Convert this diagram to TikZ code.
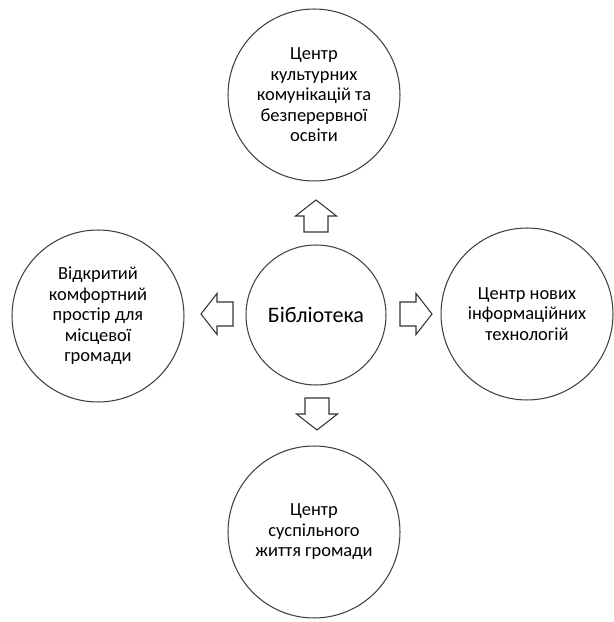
\documentclass[tikz,border=0pt]{standalone}
\usepackage{fontspec}
\setmainfont{Carlito}
\usetikzlibrary{calc}

\tikzset{
    blockarr/.pic={
        \draw[black!80, line width=0.6pt, fill=white, line join=miter]
            (0,-12) -- (16,-12) -- (16,-20.5) -- (32,0) -- (16,20.5) -- (16,12) -- (0,12) -- cycle;
    }
}

\begin{document}
\begin{tikzpicture}[x=0.02cm, y=0.02cm,
    every node/.style={circle, draw=black!75, line width=0.6pt, inner sep=0pt, align=center,
        font=\fontsize{10.5}{11.7}\selectfont},
    outer/.style={minimum size=3.44cm},
    hub/.style={minimum size=2.8cm, font=\fontsize{12.6}{15}\selectfont}]

    \useasboundingbox (0,0) rectangle (613,622);

    % Nodes
    \node[hub] (lib) at (316,307) {Бібліотека};
    \node[outer] (top) at (314,527) {Центр\\культурних\\комунікацій та\\безперервної\\освіти};
    \node[outer] (left) at (98,306) {Відкритий\\комфортний\\простір для\\місцевої\\громади};
    \node[outer] (right) at (527,308) {Центр нових\\інформаційних\\технологій};
    \node[outer] (bottom) at (314,90) {Центр\\суспільного\\життя громади};

    % Block arrows
    \pic[rotate=90] (up) at (316,390) {blockarr};
    \pic[rotate=180] (west) at (233,308) {blockarr};
    \pic (east) at (400,308) {blockarr};
    \pic[rotate=-90] (down) at (317,224) {blockarr};

\end{tikzpicture}
\end{document}
